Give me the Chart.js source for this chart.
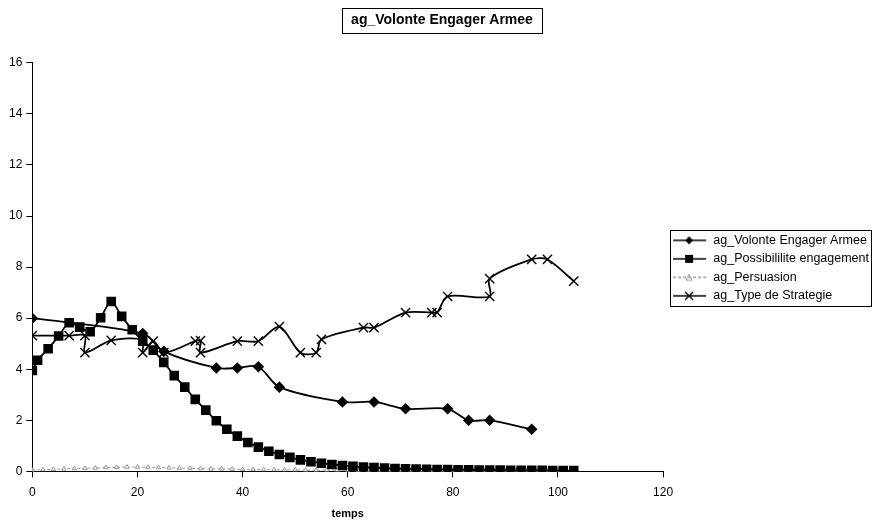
<!DOCTYPE html>
<html>
<head>
<meta charset="utf-8">
<script src="https://cdn.jsdelivr.net/npm/chart.js@4.4.0/dist/chart.umd.min.js"></script>
<style>
  body { margin: 0; background: #fff; }
  canvas { display: block; }
</style>
</head>
<body>
<canvas id="myChart" width="876" height="521"></canvas>
<script>
// data
var seriesNames = ['ag_Volonte Engager Armee', 'ag_Possibililite engagement', 'ag_Persuasion', 'ag_Type de Strategie'];

var volonteX = [0, 21, 25, 35, 39, 43, 47, 59, 65, 71, 79, 83, 87, 95];
var volonteY = [6.0, 5.4, 4.7, 4.05, 4.05, 4.1, 3.3, 2.72, 2.72, 2.45, 2.45, 2.0, 2.0, 1.65];

var possibX = [0, 1, 3, 5, 7, 9, 11, 13, 15, 17, 19, 21, 23, 25, 27, 29, 31, 33, 35, 37, 39, 41, 43, 45, 47, 49,
  51, 53, 55, 57, 59, 61, 63, 65, 67, 69, 71, 73, 75, 77, 79, 81, 83, 85, 87, 89, 91, 93, 95, 97, 99, 101, 103];
var possibY = [3.95, 4.35, 4.8, 5.3, 5.82, 5.65, 5.47, 6.02, 6.65, 6.07, 5.55, 5.1, 4.75, 4.27, 3.75, 3.3, 2.82, 2.4, 1.98, 1.65, 1.38, 1.13, 0.95, 0.79, 0.66, 0.55,
  0.45, 0.38, 0.32, 0.27, 0.23, 0.2, 0.17, 0.15, 0.13, 0.11, 0.1, 0.09, 0.08, 0.07, 0.07, 0.06, 0.06, 0.05, 0.05, 0.05, 0.04, 0.04, 0.04, 0.04, 0.03, 0.03, 0.03];

var persuX = [0, 2, 4, 6, 8, 10, 12, 14, 16, 18, 20, 22, 24, 26, 28, 30, 32, 34, 36, 38, 40, 42, 44, 46, 48, 50,
  52, 54, 56, 58, 60, 62, 64, 66, 68, 70, 72, 74, 76, 78, 80, 82, 84, 86, 88, 90, 92, 94, 96, 98, 100];
var persuY = [0.05, 0.07, 0.08, 0.1, 0.11, 0.12, 0.13, 0.15, 0.16, 0.17, 0.17, 0.16, 0.15, 0.14, 0.13, 0.12, 0.11, 0.1, 0.1, 0.09, 0.08, 0.08, 0.07, 0.07, 0.06, 0.06,
  0.05, 0.05, 0.05, 0.05, 0.05, 0.04, 0.04, 0.04, 0.04, 0.04, 0.04, 0.04, 0.04, 0.04, 0.04, 0.04, 0.04, 0.04, 0.04, 0.04, 0.04, 0.04, 0.04, 0.04, 0.04];

var strategieX = [0, 7, 10, 10, 15, 21, 21, 23, 25, 31, 32, 32, 39, 43, 47, 51, 54, 55, 63, 65, 71, 76, 77, 79, 87, 87, 95, 98, 103];
var strategieY = [5.32, 5.32, 5.32, 4.65, 5.13, 5.15, 4.65, 5.1, 4.65, 5.1, 5.12, 4.65, 5.1, 5.1, 5.67, 4.65, 4.65, 5.17, 5.63, 5.63, 6.22, 6.22, 6.22, 6.85, 6.85, 7.55, 8.3, 8.3, 7.45];

var xTicks = [0, 20, 40, 60, 80, 100, 120];
var yTicks = [0, 2, 4, 6, 8, 10, 12, 14, 16];

function pairs(xs, ys) {
  return xs.map(function (x, i) { return { x: x, y: ys[i] }; });
}

// little line+marker samples for the legend
function legendIcon(style, color, dash) {
  var c = document.createElement('canvas');
  c.width = 38; c.height = 12;
  var g = c.getContext('2d');
  g.strokeStyle = color;
  g.fillStyle = color;
  g.lineWidth = 1.6;
  if (dash) g.setLineDash(dash);
  g.beginPath(); g.moveTo(4, 6); g.lineTo(37, 6); g.stroke();
  g.setLineDash([]);
  g.beginPath();
  if (style === 'diamond') {
    g.moveTo(20, 2); g.lineTo(24, 6); g.lineTo(20, 10); g.lineTo(16, 6); g.closePath(); g.fill();
  } else if (style === 'square') {
    g.fillRect(16, 2, 8, 8);
  } else if (style === 'triangle') {
    g.lineWidth = 1;
    g.moveTo(20, 3); g.lineTo(23, 9); g.lineTo(17, 9); g.closePath(); g.stroke();
  } else {
    g.lineWidth = 1.4;
    g.moveTo(16, 2); g.lineTo(24, 10); g.moveTo(24, 2); g.lineTo(16, 10); g.stroke();
  }
  return c;
}
var icons = [
  legendIcon('diamond', '#000'),
  legendIcon('square', '#000'),
  legendIcon('triangle', '#999', [3, 2]),
  legendIcon('cross', '#000')
];

// borders round the title and the legend
var boxes = {
  id: 'boxes',
  afterDraw: function (chart) {
    var ctx = chart.ctx;
    ctx.save();
    ctx.strokeStyle = '#000';
    ctx.lineWidth = 1;
    var t = chart.titleBlock;
    ctx.font = 'bold 14px "Liberation Sans", Arial, sans-serif';
    var w = ctx.measureText(chart.options.plugins.title.text).width;
    var cx = (t.left + t.right) / 2;
    var cy = t.top + 12 + 8;
    ctx.strokeRect(Math.round(cx - w / 2 - 9) + 0.5, Math.round(cy - 12) + 0.5, Math.round(w + 18), 25);
    var hb = chart.legend.legendHitBoxes;
    if (hb && hb.length) {
      var l = Math.min.apply(null, hb.map(function (b) { return b.left; }));
      var r = Math.max.apply(null, hb.map(function (b) { return b.left + b.width; }));
      var tp = hb[0].top, bt = hb[hb.length - 1].top + hb[hb.length - 1].height;
      ctx.strokeRect(Math.round(l + 1) + 0.5, Math.round(tp - 4) + 0.5, Math.round(r - l + 1), Math.round(bt - tp + 8));
    }
    ctx.restore();
  }
};

var ctx = document.getElementById('myChart').getContext('2d');
var myChart = new Chart(ctx, {
  type: 'line',
  data: {
    datasets: [{
      label: seriesNames[0],
      data: pairs(volonteX, volonteY),
      borderColor: '#000',
      backgroundColor: '#000',
      borderWidth: 1.8,
      pointStyle: 'rectRot',
      pointRadius: 4.5,
      tension: 0.3
    }, {
      label: seriesNames[1],
      data: pairs(possibX, possibY),
      borderColor: '#000',
      backgroundColor: '#000',
      borderWidth: 1.8,
      pointStyle: 'rect',
      pointRadius: 5.5,
      tension: 0.3
    }, {
      label: seriesNames[2],
      data: pairs(persuX, persuY),
      borderColor: '#999',
      backgroundColor: '#fff',
      borderWidth: 1,
      borderDash: [3, 2],
      pointStyle: 'triangle',
      pointRadius: 2.5,
      pointBorderWidth: 1,
      tension: 0.3
    }, {
      label: seriesNames[3],
      data: pairs(strategieX, strategieY),
      borderColor: '#000',
      backgroundColor: '#000',
      borderWidth: 1.8,
      pointStyle: 'crossRot',
      pointRadius: 6.5,
      pointBorderWidth: 1.4,
      tension: 0.3
    }]
  },
  options: {
    responsive: false,
    animation: false,
    layout: { padding: { left: 5, right: -3, top: 0, bottom: 0 } },
    font: { family: '"Liberation Sans", Arial, sans-serif' },
    scales: {
      x: {
        type: 'linear',
        min: 0,
        max: 120,
        afterBuildTicks: function (axis) { axis.ticks = xTicks.map(function (v) { return { value: v }; }); },
        ticks: { color: '#000', font: { size: 12 }, padding: 8, maxRotation: 0 },
        grid: { drawOnChartArea: false, color: '#000', tickLength: 6 },
        border: { color: '#000', width: 1 },
        title: { display: true, text: 'temps', color: '#000', font: { size: 11, weight: 'bold' }, padding: { top: 0, bottom: 0 } }
      },
      y: {
        min: 0,
        max: 16,
        afterBuildTicks: function (axis) { axis.ticks = yTicks.map(function (v) { return { value: v }; }); },
        ticks: { color: '#000', font: { size: 12 }, padding: 4 },
        grid: { drawOnChartArea: false, color: '#000', tickLength: 6 },
        border: { color: '#000', width: 1 }
      }
    },
    plugins: {
      title: {
        display: true,
        text: 'ag_Volonte Engager Armee',
        color: '#000',
        font: { size: 14, weight: 'bold' },
        padding: { top: 12, bottom: 34 }
      },
      legend: {
        position: 'right',
        title: { display: true, text: ' ', font: { size: 1 }, padding: { top: 14, bottom: 0 } },
        labels: {
          color: '#000',
          font: { size: 12.5 },
          usePointStyle: true,
          pointStyleWidth: 38,
          padding: 6,
          generateLabels: function (chart) {
            var items = Chart.defaults.plugins.legend.labels.generateLabels(chart);
            items.forEach(function (it, i) { it.pointStyle = icons[i]; });
            return items;
          }
        }
      },
      tooltip: { enabled: false }
    }
  },
  plugins: [boxes]
});
</script>
</body>
</html>
